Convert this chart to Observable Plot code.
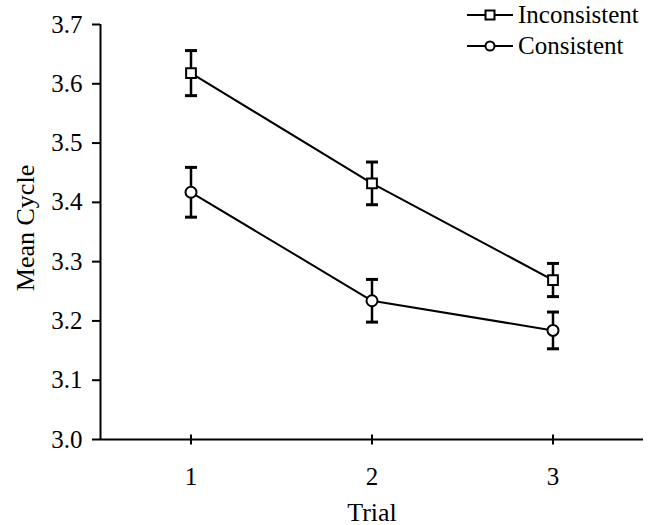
<!DOCTYPE html>
<html><head><meta charset="utf-8">
<script src="https://cdn.jsdelivr.net/npm/d3@7"></script>
<script src="https://cdn.jsdelivr.net/npm/@observablehq/plot@0.6"></script>
<style>
body{margin:0;background:#fff;}
#wrap{position:relative;width:650px;height:525px;font-family:"Liberation Serif","Times New Roman",Tinos,"DejaVu Serif",serif;color:#000;}
#wrap svg text{font-family:"Liberation Serif","Times New Roman",Tinos,"DejaVu Serif",serif;}
#legend{position:absolute;left:467px;top:-1px;font-size:25px;line-height:31px;}
#legend .row{display:flex;align-items:center;height:31px;}
#legend svg{display:block;margin-right:5px;}
</style></head><body><div id="wrap"><div id="legend"></div></div>
<script>
const trials = [1, 2, 3];
const groups = ["Inconsistent", "Consistent"];
const inconsistentMean = [3.618, 3.432, 3.269];
const inconsistentErr = [0.038, 0.036, 0.028];
const consistentMean = [3.417, 3.234, 3.184];
const consistentErr = [0.042, 0.036, 0.031];
const yTicks = [3.0, 3.1, 3.2, 3.3, 3.4, 3.5, 3.6, 3.7];
const xTitle = "Trial";
const yTitle = "Mean Cycle";

const rows = [];
trials.forEach((t, i) => {
  rows.push({trial: t, group: groups[0], mean: inconsistentMean[i], err: inconsistentErr[i]});
  rows.push({trial: t, group: groups[1], mean: consistentMean[i], err: consistentErr[i]});
});

const vTick = {draw(c, s) { const r = Math.sqrt(s / Math.PI); c.moveTo(0, -r); c.lineTo(0, r); }};
const hTick = {draw(c, s) { const r = Math.sqrt(s / Math.PI); c.moveTo(-r, 0); c.lineTo(r, 0); }};

const serif = "'Liberation Serif', 'Times New Roman', Tinos, 'DejaVu Serif', serif";
const chart = Plot.plot({
  width: 650, height: 525,
  marginLeft: 100, marginRight: 7, marginTop: 24, marginBottom: 86,
  style: {fontFamily: serif, fontSize: "25px", color: "black", background: "white", overflow: "visible"},
  x: {domain: [0.5, 3.5]},
  y: {domain: [3.0, 3.7]},
  symbol: {domain: groups, range: ["square", "circle"]},
  marks: [
    Plot.axisY({ticks: yTicks, tickFormat: d3.format(".1f"), tickSize: 8, tickPadding: 10, strokeWidth: 2, label: null, fontSize: 25}),
    Plot.axisX({ticks: trials, tickFormat: d => String(d), tickSize: 0, tickPadding: 28, label: null, fontSize: 25}),
    Plot.text([yTitle], {text: d => d, frameAnchor: "left", textAnchor: "middle", rotate: -90, dx: -75, dy: -4, fontSize: 26}),
    Plot.text([xTitle], {text: d => d, frameAnchor: "bottom", dy: 81, fontSize: 26}),
    Plot.ruleX([0.5], {strokeWidth: 2}),
    Plot.ruleY([3.0], {strokeWidth: 2}),
    Plot.dot(trials, {x: d => d, y: () => 3.0, symbol: vTick, r: 5, stroke: "black", strokeWidth: 2}),
    Plot.line(rows, {x: "trial", y: "mean", z: "group", stroke: "black", strokeWidth: 2}),
    Plot.ruleX(rows, {x: "trial", y1: d => d.mean - d.err, y2: d => d.mean + d.err, stroke: "black", strokeWidth: 2.5}),
    Plot.dot(rows, {x: "trial", y: d => d.mean + d.err, symbol: hTick, r: 6, stroke: "black", strokeWidth: 3}),
    Plot.dot(rows, {x: "trial", y: d => d.mean - d.err, symbol: hTick, r: 6, stroke: "black", strokeWidth: 3}),
    Plot.dot(rows, {x: "trial", y: "mean", symbol: "group", r: 5.5, fill: "white", stroke: "black", strokeWidth: 2})
  ]
});
const wrap = document.getElementById("wrap");
wrap.insertBefore(chart, wrap.firstChild);

const legend = document.getElementById("legend");
groups.forEach((g, i) => {
  const marker = i === 0
    ? '<rect x="18.5" y="5.5" width="9" height="9" fill="white" stroke="black" stroke-width="2"/>'
    : '<circle cx="23" cy="10" r="4.5" fill="white" stroke="black" stroke-width="2"/>';
  legend.insertAdjacentHTML("beforeend",
    `<div class="row"><svg width="46" height="20"><line x1="0" x2="46" y1="10" y2="10" stroke="black" stroke-width="2"/>${marker}</svg><span>${g}</span></div>`);
});
</script></body></html>
